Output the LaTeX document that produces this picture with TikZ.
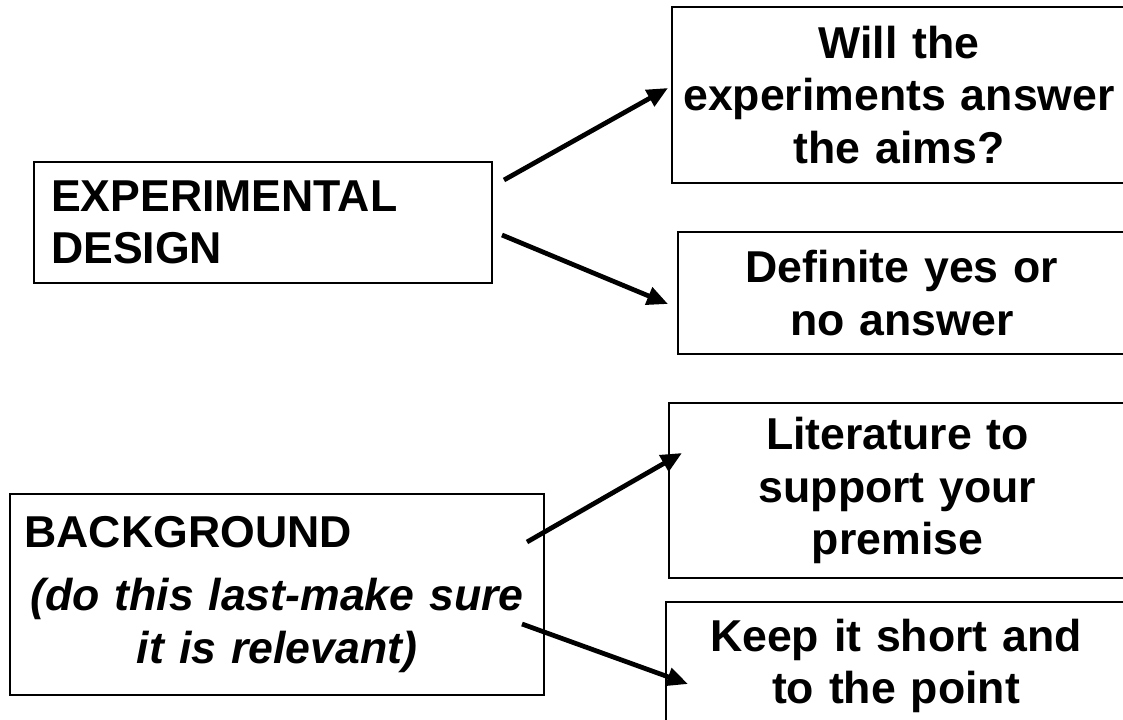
\documentclass[tikz,border=0pt]{standalone}
\usepackage{fontspec}
\setmainfont{Liberation Sans}
\usetikzlibrary{arrows.meta}
\tikzset{
  box/.style={rectangle, draw=black, line width=0.9pt, inner ysep=0pt,
    font=\fontsize{25.4pt}{30pt}\selectfont\bfseries},
  pointer/.style={line width=2.7pt, -{Triangle[length=0.42cm,width=0.36cm]}},
}

\begin{document}
\begin{tikzpicture}[x=0.02cm, y=-0.02cm]
	\clip (0,0) rectangle (1123,720);
	% topics on the left
	\node[box, text width=8.48cm, inner xsep=0.34cm, minimum height=2.42cm, align=left] (design) at (263,222.5) {EXPERIMENTAL\\DESIGN};
	\node[box, text width=10.5cm, inner xsep=0.09cm, minimum height=4.02cm, align=center] (background) at (277,594.5)
		{\makebox[\linewidth][l]{\hspace{0.2cm}BACKGROUND}\\[0.2cm] \itshape (do this last-make sure\\ it is relevant)};
	% notes on the right
	\node[box, text width=8.9cm, inner xsep=0.09cm, minimum height=3.52cm, align=center] (aims) at (899,95) {Will the\\experiments answer\\the aims?};
	\node[box, text width=8.8cm, inner xsep=0.08cm, minimum height=2.44cm, align=center] (yesno) at (902,293) {Definite yes or\\no answer};
	\node[box, text width=8.96cm, inner xsep=0.09cm, minimum height=3.5cm, align=center] (literature) at (897.5,490.5) {Literature to\\support your\\premise};
	\node[box, text width=9.0cm, inner xsep=0.1cm, minimum height=2.56cm, align=center] (short) at (896,666) {Keep it short and\\to the point};
	% arrow ends
	\coordinate (designUp) at (504,180);
	\coordinate (designDown) at (502,235);
	\coordinate (aimsIn) at (668,88);
	\coordinate (yesnoIn) at (668,304);
	\coordinate (backUp) at (527,542);
	\coordinate (backDown) at (522,624);
	\coordinate (literatureIn) at (682,453);
	\coordinate (shortIn) at (688,684);
	\draw[pointer] (designUp) -- (aimsIn);
	\draw[pointer] (designDown) -- (yesnoIn);
	\draw[pointer] (backUp) -- (literatureIn);
	\draw[pointer] (backDown) -- (shortIn);
\end{tikzpicture}
\end{document}
